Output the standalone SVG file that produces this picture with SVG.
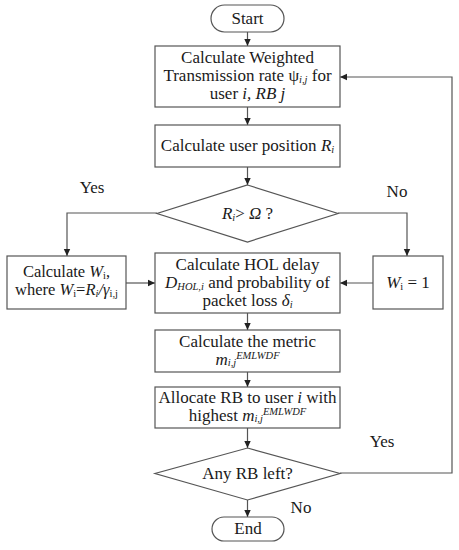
<svg xmlns="http://www.w3.org/2000/svg" width="459" height="550" viewBox="0 0 459 550">
<defs>
<marker id="ah" markerWidth="8" markerHeight="8" refX="7" refY="4" orient="auto" markerUnits="userSpaceOnUse">
<path d="M0,0.8 L7,4 L0,7.2 Z" fill="#222"/>
</marker>
<style>
.n{fill:#fff;stroke:#555;stroke-width:1.2}
.c{fill:none;stroke:#555;stroke-width:1.2;marker-end:url(#ah)}
text{font-family:"Liberation Serif","DejaVu Serif",serif;font-size:17px;fill:#1a1a1a;text-anchor:middle}
.i{font-style:italic}
.s{font-size:10.5px}
.sm{font-size:16.5px}
</style>
</defs>
<rect width="459" height="550" fill="#fff"/>
<g id="connectors">
<line class="c" x1="247.5" y1="32" x2="247.5" y2="46"/>
<line class="c" x1="247.5" y1="107" x2="247.5" y2="125"/>
<line class="c" x1="247.5" y1="167" x2="247.5" y2="185"/>
<polyline class="c" points="157,213 67,213 67,256"/>
<polyline class="c" points="338,213 407,213 407,256"/>
<line class="c" x1="126" y1="283" x2="155" y2="283"/>
<line class="c" x1="373" y1="283" x2="340" y2="283"/>
<line class="c" x1="247.5" y1="313" x2="247.5" y2="330"/>
<line class="c" x1="247.5" y1="372" x2="247.5" y2="387"/>
<line class="c" x1="247.5" y1="428" x2="247.5" y2="448"/>
<polyline class="c" points="340,473 452,473 452,77 340,77"/>
<line class="c" x1="247.5" y1="500" x2="247.5" y2="517"/>
</g>
<g id="start">
<rect class="n" x="211" y="5" width="73" height="27" rx="13.5"/>
<text x="247.5" y="24">Start</text>
</g>
<g id="box1">
<rect class="n" x="155" y="46" width="185" height="61"/>
<text x="247.5" y="63">Calculate Weighted</text>
<text x="247.5" y="81">Transmission rate ψ<tspan class="i s" dy="2">i,j</tspan><tspan dy="-2"> for</tspan></text>
<text x="247.5" y="99">user <tspan class="i">i, RB j</tspan></text>
</g>
<g id="box2">
<rect class="n" x="155" y="125" width="185" height="42"/>
<text x="247.5" y="151">Calculate user position <tspan class="i">R</tspan><tspan class="i s" dy="2">i</tspan></text>
</g>
<g id="dec1">
<polygon class="n" points="247.5,185 338,213.5 247.5,242 157,213.5"/>
<text x="247.5" y="219"><tspan class="i">R</tspan><tspan class="i s" dy="2">i</tspan><tspan dy="-2">&gt; </tspan><tspan class="i">Ω</tspan> ?</text>
</g>
<g id="leftbox">
<rect class="n" x="7" y="256" width="119" height="53"/>
<text class="sm" x="66.5" y="277">Calculate <tspan class="i">W</tspan><tspan class="s" dy="2">i</tspan><tspan dy="-2">,</tspan></text>
<text class="sm" x="66.5" y="295">where <tspan class="i">W</tspan><tspan class="s" dy="2">i</tspan><tspan dy="-2">=</tspan><tspan class="i">R</tspan><tspan class="i s" dy="2">i</tspan><tspan class="i" dy="-2">/γ</tspan><tspan class="s" dy="2">i,j</tspan></text>
</g>
<g id="hol">
<rect class="n" x="155" y="253" width="185" height="60"/>
<text x="247.5" y="270">Calculate HOL delay</text>
<text x="247.5" y="288"><tspan class="i">D</tspan><tspan class="i s" dy="2">HOL,i</tspan><tspan dy="-2"> and probability of</tspan></text>
<text x="247.5" y="306">packet loss <tspan class="i">δ</tspan><tspan class="i s" dy="2">i</tspan></text>
</g>
<g id="rightbox">
<rect class="n" x="373" y="256" width="70" height="53"/>
<text x="408" y="288"><tspan class="i">W</tspan><tspan class="s" dy="2">i</tspan><tspan dy="-2"> = 1</tspan></text>
</g>
<g id="metric">
<rect class="n" x="155" y="330" width="185" height="42"/>
<text x="247.5" y="347">Calculate the metric</text>
<text x="247.5" y="365"><tspan class="i">m</tspan><tspan class="i s" dy="1">i,j</tspan><tspan class="i s" dy="-7">EMLWDF</tspan></text>
</g>
<g id="allocate">
<rect class="n" x="155" y="387" width="185" height="41"/>
<text x="247.5" y="403">Allocate RB to user <tspan class="i">i</tspan> with</text>
<text x="247.5" y="421">highest <tspan class="i">m</tspan><tspan class="i s" dy="1">i,j</tspan><tspan class="i s" dy="-7">EMLWDF</tspan></text>
</g>
<g id="dec2">
<polygon class="n" points="247.5,448 340,473.5 247.5,500 155,473.5"/>
<text x="247.5" y="479">Any RB left?</text>
</g>
<g id="end">
<rect class="n" x="212" y="517" width="72" height="24" rx="12"/>
<text x="248" y="534">End</text>
</g>
<g id="labels">
<text x="92" y="193">Yes</text>
<text x="397" y="197">No</text>
<text x="382" y="447">Yes</text>
<text x="301" y="513">No</text>
</g>
</svg>
